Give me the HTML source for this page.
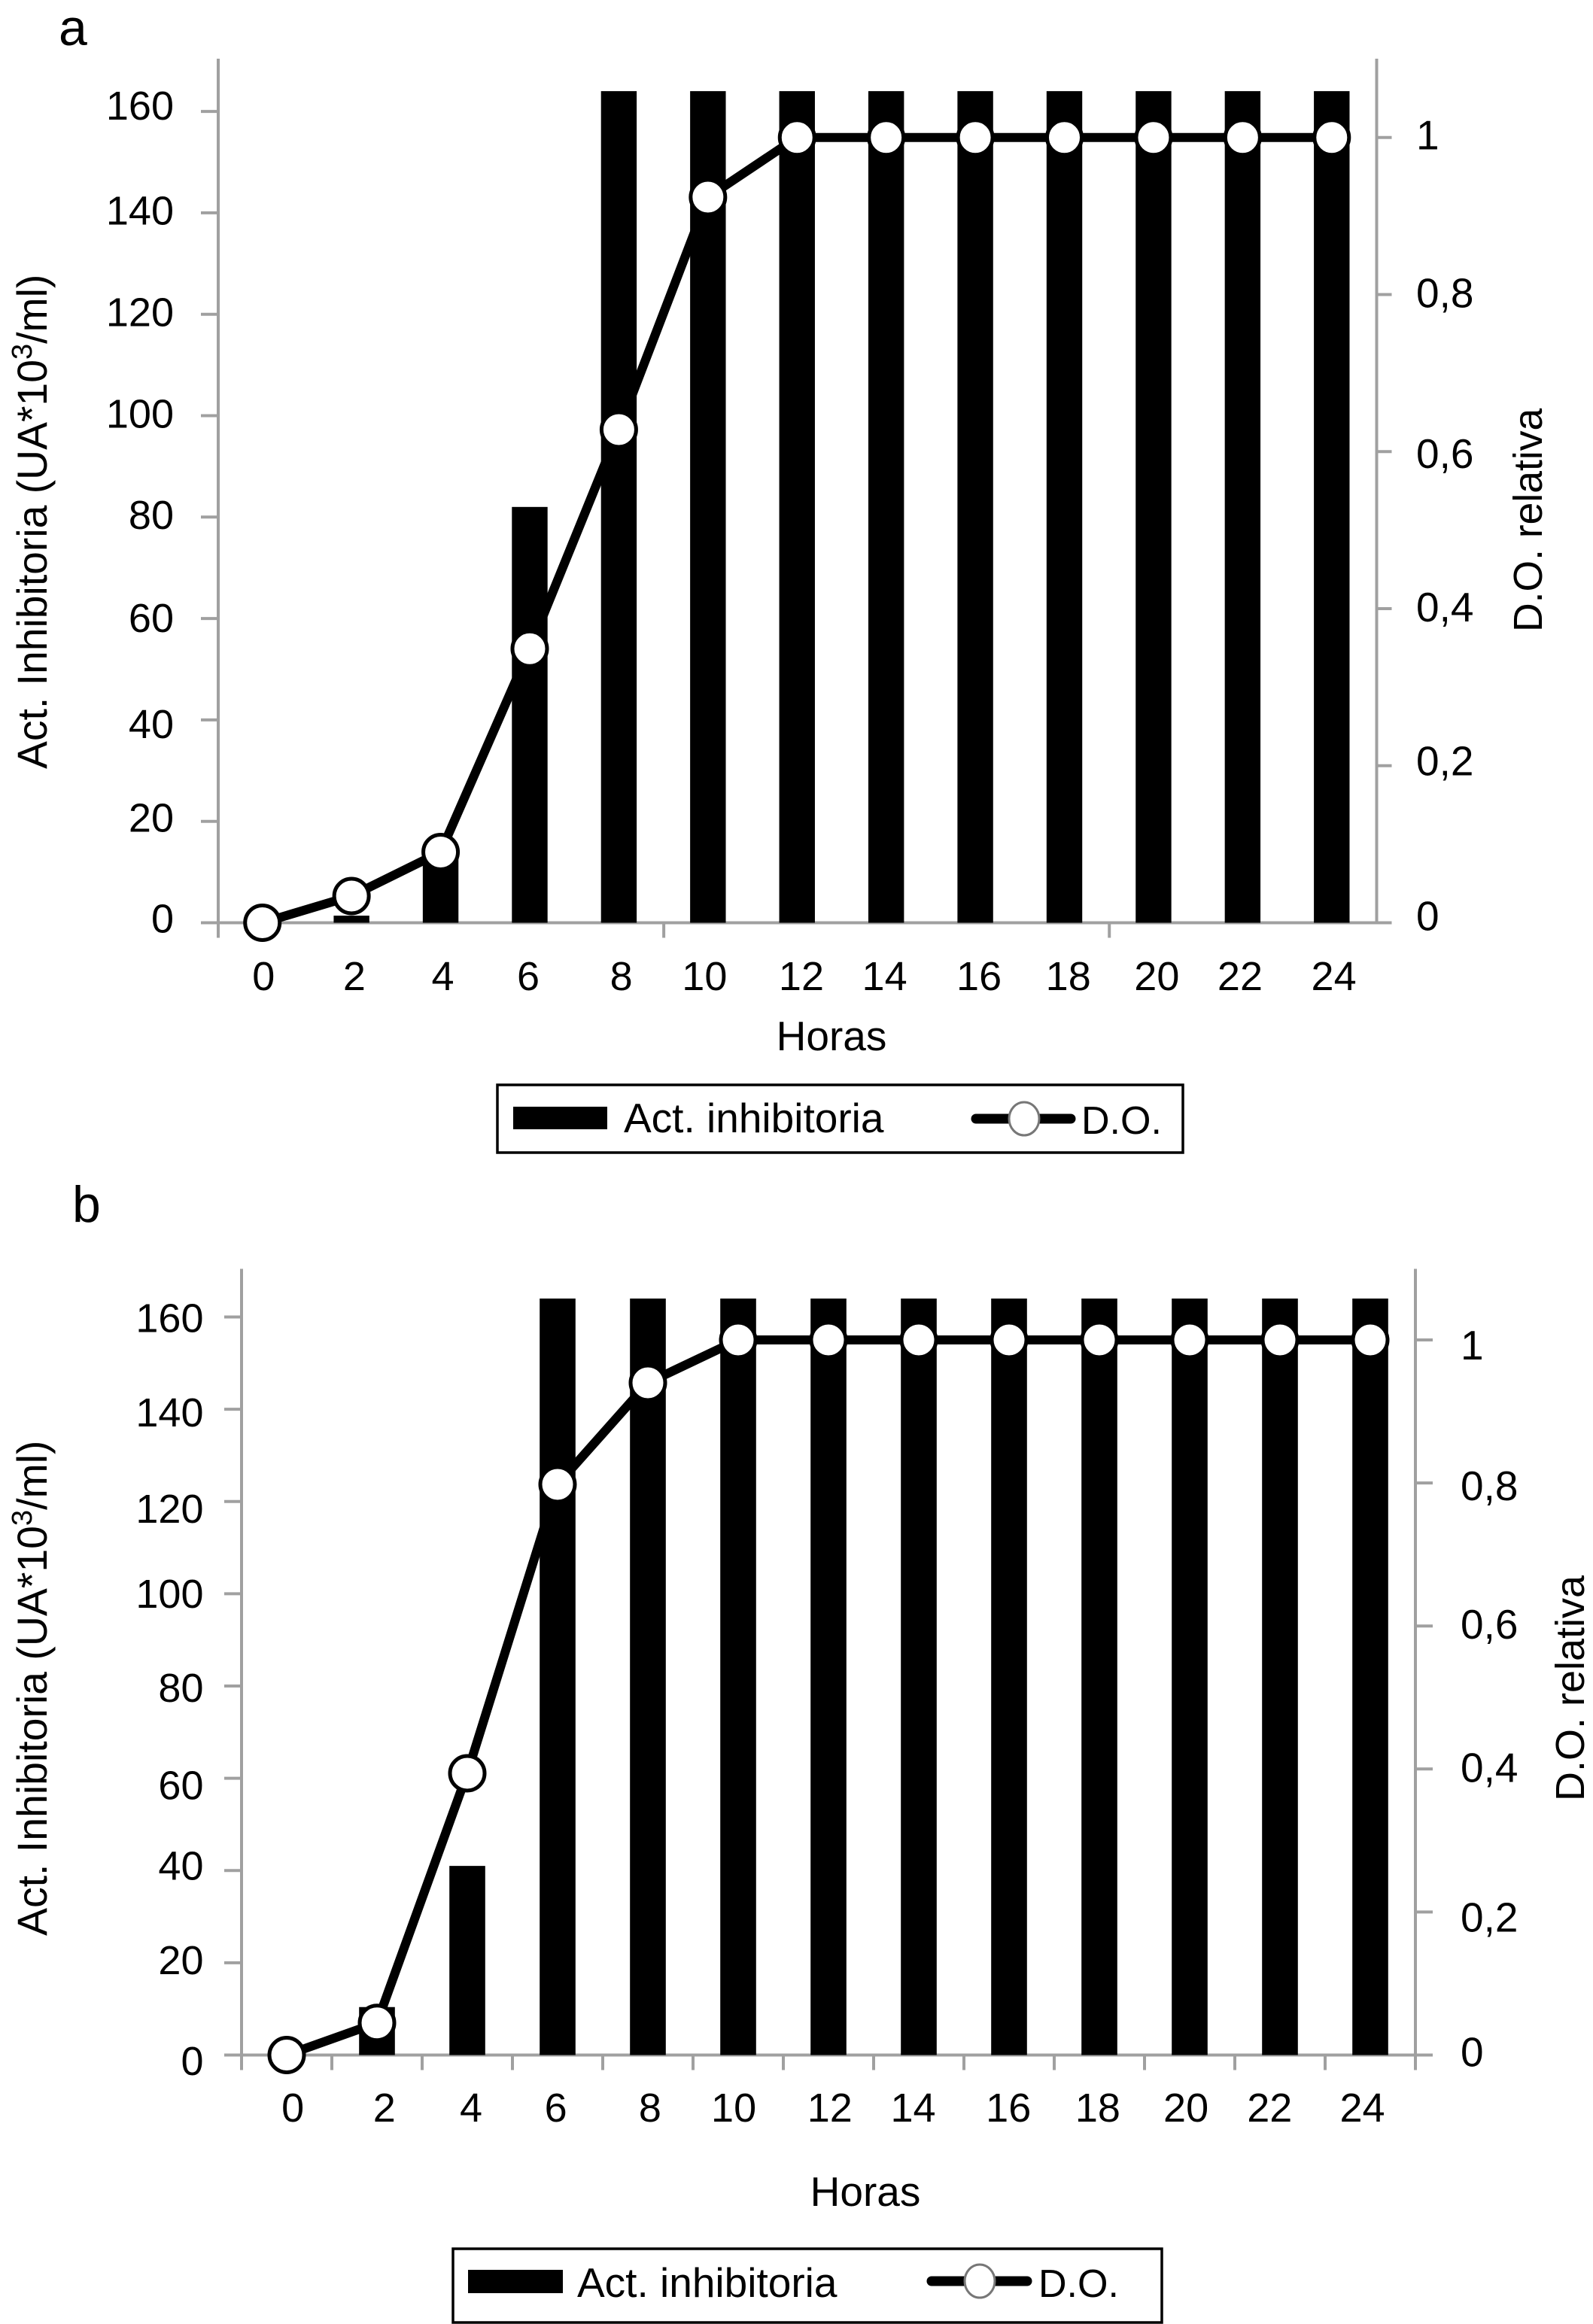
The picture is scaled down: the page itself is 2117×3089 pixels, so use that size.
<!DOCTYPE html>
<html lang="es">
<head>
<meta charset="utf-8">
<title>Actividad inhibitoria y D.O. relativa</title>
<style>
  html, body { margin: 0; padding: 0; background: #fff; }
  svg { display: block; }
  text { font-family: "Liberation Sans", sans-serif; fill: #000; }
</style>
</head>
<body>
<svg id="figure" xmlns="http://www.w3.org/2000/svg" width="2117" height="3089" viewBox="0 0 2117 3089">
  <rect x="0" y="0" width="2117" height="3089" fill="#fff"/>

  <g id="panel-a">
    <text x="78" y="60" font-size="68">a</text>
    <text x="62" y="1022" font-size="55.3" transform="rotate(-90 62 1022)">Act. Inhibitoria (UA*10<tspan dy="-20" font-size="38">3</tspan><tspan dy="20">/ml)</tspan></text>
    <text x="2049" y="840" font-size="53.5" transform="rotate(-90 2049 840)">D.O. relativa</text>
    <text x="1105" y="1396" font-size="55" text-anchor="middle">Horas</text>
    <g>
      <rect x="661" y="1442" width="911" height="90" fill="#fff" stroke="#000" stroke-width="3.5"/>
      <rect x="682" y="1471" width="125" height="30" fill="#000"/>
      <text x="829" y="1505" font-size="55">Act. inhibitoria</text>
      <line x1="1297" y1="1487" x2="1423" y2="1487" stroke="#000" stroke-width="13" stroke-linecap="round"/>
      <ellipse cx="1361" cy="1487" rx="20" ry="22" fill="#fff" stroke="#777" stroke-width="3"/>
      <text x="1437" y="1507" font-size="52">D.O.</text>
    </g>
  </g>

  <g id="panel-b">
    <text x="96" y="1624" font-size="68">b</text>
    <text x="62" y="2573" font-size="55.4" transform="rotate(-90 62 2573)">Act. Inhibitoria (UA*10<tspan dy="-20" font-size="38">3</tspan><tspan dy="20">/ml)</tspan></text>
    <text x="2105" y="2394" font-size="54" transform="rotate(-90 2105 2394)">D.O. relativa</text>
    <text x="1150" y="2932" font-size="55" text-anchor="middle">Horas</text>
    <g>
      <rect x="602" y="2989" width="942" height="98" fill="#fff" stroke="#000" stroke-width="3.5"/>
      <rect x="622" y="3017" width="126" height="31" fill="#000"/>
      <text x="767" y="3053" font-size="55">Act. inhibitoria</text>
      <line x1="1238" y1="3032" x2="1365" y2="3032" stroke="#000" stroke-width="13" stroke-linecap="round"/>
      <ellipse cx="1302" cy="3032" rx="20" ry="22" fill="#fff" stroke="#777" stroke-width="3"/>
      <text x="1380" y="3053" font-size="52">D.O.</text>
    </g>
  </g>
</svg>

<script>
// ---- data ----
const hours = [0, 2, 4, 6, 8, 10, 12, 14, 16, 18, 20, 22, 24];
const activityA = [0, 1.4, 14, 82, 164, 164, 164, 164, 164, 164, 164, 164, 164];
const densityA = [0, 0.034, 0.09, 0.349, 0.628, 0.924, 1, 1, 1, 1, 1, 1, 1];
const activityB = [0, 10.4, 41, 164, 164, 164, 164, 164, 164, 164, 164, 164, 164];
const densityB = [0, 0.045, 0.394, 0.798, 0.94, 1, 1, 1, 1, 1, 1, 1, 1];
const leftTickValues = [0, 20, 40, 60, 80, 100, 120, 140, 160];
const rightTickValues = [0, 0.2, 0.4, 0.6, 0.8, 1];
const rightTickLabels = ['0', '0,2', '0,4', '0,6', '0,8', '1'];

// ---- hand-typeset label offsets of the original figure (layout only) ----
const layoutA = {
  left: 290, right: 1829.5, top: 78, zero: 1226.5, bottomTick: 1246.5, catShift: -0.5,
  leftMax: 170.4, rightMax: 1.1003, rightTickLen: 20,
  leftLabelX: 231, rightLabelX: 1882, tickLabelY: 1316,
  xTickSlots: [0, 5, 10], barWidth: 47.4,
  xNudge: [1.6, 3.8, 3, -1.9, 3.3, -4.5, 5.7, -2.1, 5, 5.2, 4.4, -3.4, 2.8],
  leftNudge: [13, 14, 24, 18, 15.5, 16, 15.7, 15.5, 11],
  rightNudge: [10, 13, 17, 22, 17, 16]
};
const layoutB = {
  left: 321, right: 1881, top: 1686.5, zero: 2731.5, bottomTick: 2751.5, catShift: 0,
  leftMax: 170.44, rightMax: 1.0994, rightTickLen: 23,
  leftLabelX: 270.5, rightLabelX: 1941, tickLabelY: 2820,
  xTickSlots: [0, 1, 2, 3, 4, 5, 6, 7, 8, 9, 10, 11, 12, 13], barWidth: 47.6,
  xNudge: [8.1, 9.8, 5, -2.3, 2.9, -5.9, 1.8, -7.5, -0.8, -2.1, -4.9, -13.7, -10.5],
  leftNudge: [26.5, 15, 12, 28, 21, 18.5, 28, 23, 20],
  rightNudge: [15, 26, 17, 17, 23, 26]
};

const NS = 'http://www.w3.org/2000/svg';
const AXIS_COLOR = '#a0a0a0';

function make(parent, tag, attrs) {
  const el = document.createElementNS(NS, tag);
  for (const k in attrs) el.setAttribute(k, attrs[k]);
  parent.appendChild(el);
  return el;
}

function drawPanel(panelId, suffix, L, activity, density) {
  const panel = document.getElementById(panelId);
  const slot = (L.right - L.left) / hours.length;
  const xCat = i => L.left + slot * (i + 0.5) + L.catShift;
  const yLeft = v => L.zero - (L.zero - L.top) * v / L.leftMax;
  const yRight = v => L.zero - (L.zero - L.top) * v / L.rightMax;

  // axes
  const axes = make(panel, 'g', { stroke: AXIS_COLOR, 'stroke-width': 4, fill: 'none' });
  
  

  const leftAxis = make(axes, 'line', { x1: L.left, x2: L.left, y1: L.top, y2: L.bottomTick });
  
  

  const rightAxis = make(axes, 'line', { x1: L.right, x2: L.right, y1: L.top, y2: L.zero });
  
  

  const xAxis = make(axes, 'line', { x1: L.left - 23, x2: L.right + L.rightTickLen, y1: L.zero, y2: L.zero });
  
  

  L.xTickSlots.forEach(k => {
    const x = L.left + slot * k;
    const tick = make(axes, 'line', { x1: x, x2: x, y1: L.zero, y2: L.bottomTick });
    
    
  });

  leftTickValues.forEach((v, i) => {
    const y = yLeft(v);
    const tick = make(axes, 'line', { x1: L.left - 23, x2: L.left, y1: y, y2: y });
    
    

    const label = make(panel, 'text', { x: L.leftLabelX, y: y + L.leftNudge[i], 'font-size': 54, 'text-anchor': 'end' });
    
    
    label.textContent = String(v);
  });

  rightTickValues.forEach((v, i) => {
    const y = yRight(v);
    const tick = make(axes, 'line', { x1: L.right, x2: L.right + L.rightTickLen, y1: y, y2: y });
    
    

    const label = make(panel, 'text', { x: L.rightLabelX, y: y + L.rightNudge[i], 'font-size': 55 });
    
    
    label.textContent = rightTickLabels[i];
  });

  // x tick labels
  hours.forEach((h, i) => {
    const label = make(panel, 'text', { x: xCat(i) + L.xNudge[i], y: L.tickLabelY, 'font-size': 54, 'text-anchor': 'middle' });
    
    
    label.textContent = String(h);
  });

  // bars
  const barGroup = make(panel, 'g', { fill: '#000' });
  
  
  activity.forEach((v, i) => {
    const y = yLeft(v);
    const bar = make(barGroup, 'rect', { x: xCat(i) - L.barWidth / 2, y: y, width: L.barWidth, height: L.zero - y });
    
    
  });

  // line
  const pts = density.map((v, i) => xCat(i) + ',' + yRight(v)).join(' ');
  const line = make(panel, 'polyline', { points: pts, fill: 'none', stroke: '#000', 'stroke-width': 12, 'stroke-linejoin': 'round' });
  
  

  // markers
  const markerGroup = make(panel, 'g', { fill: '#fff', stroke: '#000', 'stroke-width': 5 });
  
  
  density.forEach((v, i) => {
    const dot = make(markerGroup, 'circle', { cx: xCat(i), cy: yRight(v), r: 23 });
    
    
  });
}

drawPanel('panel-a', 'a', layoutA, activityA, densityA);
drawPanel('panel-b', 'b', layoutB, activityB, densityB);
</script>
</body>
</html>
